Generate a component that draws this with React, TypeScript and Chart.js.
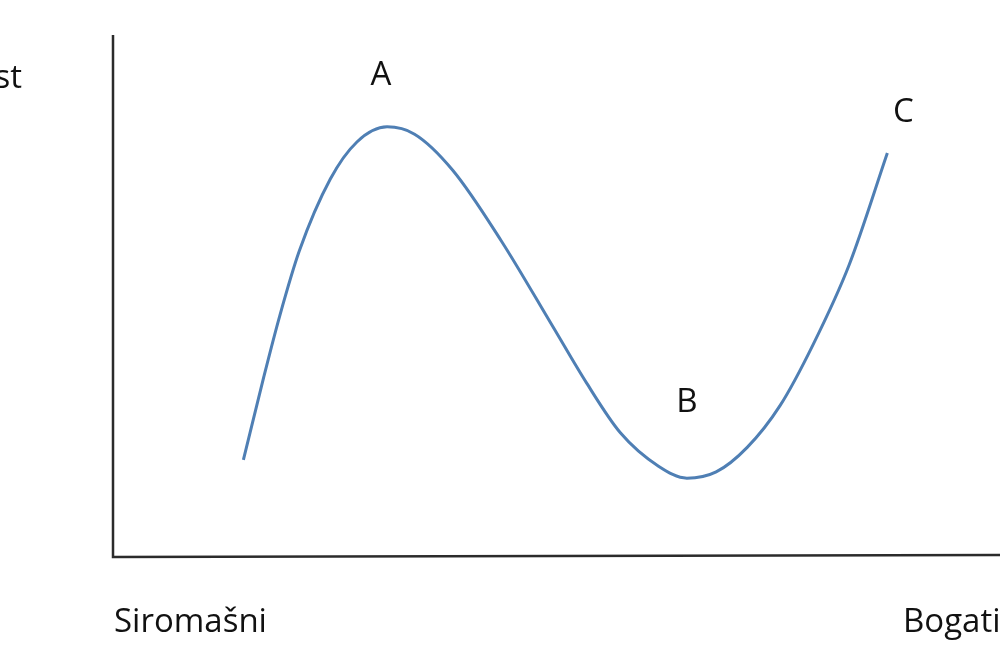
import React, { useEffect, useRef } from "react";
import { Chart, registerables } from "chart.js";

Chart.register(...registerables);

// Wealth (x) vs. the measured quantity (y), both on a 0–100 scale
const wealth = [14.7, 17.0, 18.8, 21.0, 24.5, 27.5, 30.9, 34.0, 38.3, 43.8, 49.6, 53.4, 57.2, 61.5, 64.7, 68.0, 71.5, 75.2, 78.9, 83.0, 87.3];
const level = [18.6, 34.5, 46.2, 58.6, 72.4, 79.5, 82.4, 81.0, 74.1, 60.5, 44.1, 33.3, 23.8, 17.4, 15.1, 16.3, 21.0, 29.0, 40.6, 56.0, 77.4];

// Point labels on the curve
const pointNames = ["A", "B", "C"];
const pointX = [30.2, 64.7, 89.1];
const pointY = [92.3, 29.5, 85.2];

const axisLow = "Siromašni";
const axisHigh = "Bogati";
const yAxisFragment = "st";

const FONT = "33px 'Open Sans', sans-serif";

const decorations = {
  id: "decorations",
  afterDraw(chart: any) {
    const { ctx, chartArea, scales } = chart;
    const { left, right, top, bottom } = chartArea;
    ctx.save();
    // axes
    ctx.strokeStyle = "#2b2b2b";
    ctx.lineWidth = 2.5;
    ctx.beginPath();
    ctx.moveTo(left, top);
    ctx.lineTo(left, bottom);
    ctx.lineTo(right, bottom - 2);
    ctx.stroke();

    ctx.fillStyle = "#111";
    ctx.font = FONT;
    ctx.textBaseline = "middle";
    ctx.textAlign = "center";
    pointNames.forEach((name, i) => {
      ctx.fillText(name, scales.x.getPixelForValue(pointX[i]), scales.y.getPixelForValue(pointY[i]));
    });

    ctx.textAlign = "left";
    ctx.fillText(axisLow, left + 1, bottom + 66);
    ctx.fillText(axisHigh, 903, bottom + 66);
    ctx.textAlign = "right";
    ctx.fillText(yAxisFragment, 22, 79);
    ctx.restore();
  },
};

export default function App() {
  const ref = useRef<HTMLCanvasElement>(null);

  useEffect(() => {
    if (!ref.current) return;
    const chart = new Chart(ref.current, {
      type: "line",
      data: {
        datasets: [
          {
            data: wealth.map((x, i) => ({ x, y: level[i] })),
            borderColor: "#4f7fb4",
            borderWidth: 3,
            pointRadius: 0,
            cubicInterpolationMode: "monotone",
            fill: false,
          },
        ],
      },
      options: {
        responsive: false,
        animation: false,
        layout: { padding: { left: 113, top: 35, right: 0, bottom: 109 } },
        plugins: { legend: { display: false }, tooltip: { enabled: false } },
        scales: {
          x: { type: "linear", min: 0, max: 100, display: false },
          y: { type: "linear", min: 0, max: 100, display: false },
        },
      },
      plugins: [decorations],
    });
    return () => chart.destroy();
  }, []);

  return (
    <div style={{ position: "absolute", left: 0, top: 0, width: 1000, height: 666, background: "#fff" }}>
      <canvas ref={ref} width={1000} height={666} />
    </div>
  );
}
